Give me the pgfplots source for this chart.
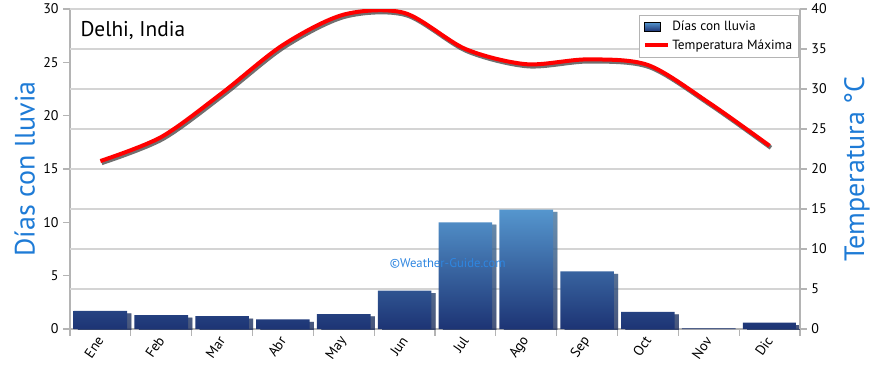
\documentclass[border=0pt]{standalone}
\usepackage{pgfplots}
\pgfplotsset{compat=1.18}
\usepackage{fontspec}
\setmainfont{PT Sans}
\usetikzlibrary{shadows}
\definecolor{gridc}{HTML}{D4D4D4}
\definecolor{axc}{HTML}{B4B4B4}
\definecolor{lblue}{HTML}{1E7BD6}
\definecolor{bartop}{HTML}{5596CE}
\definecolor{barbot}{HTML}{1D3474}
\definecolor{wmark}{HTML}{2F86E0}

\begin{document}
\begin{tikzpicture}
\path[use as bounding box] (-52.5pt,-27pt) rectangle (600pt,246.75pt);
\begin{axis}[
  at={(0,0)}, anchor=south west,
  scale only axis, width=547.5pt, height=240pt,
  xmin=-0.5, xmax=11.5, ymin=0, ymax=30,
  axis x line*=bottom, axis y line*=left,
  axis line style={axc, line width=0.9pt},
  xtick={0,...,11},
  xticklabels={Ene,Feb,Mar,Abr,May,Jun,Jul,Ago,Sep,Oct,Nov,Dic},
  major x tick style={draw=none},
  minor xtick={-0.5,0.5,1.5,2.5,3.5,4.5,5.5,6.5,7.5,8.5,9.5,10.5,11.5},
  minor tick length=5pt,
  minor x tick style={axc, line width=0.9pt},
  tick align=outside,
  ytick={0,5,...,30},
  major tick length=5pt,
  y tick style={axc, line width=0.9pt},
  extra y ticks={3.75,7.5,11.25,15,18.75,22.5,26.25,30},
  extra y tick labels={},
  extra y tick style={grid=major, major tick length=0pt, grid style={gridc, line width=0.8pt}},
  /pgf/number format/assume math mode=true,
  ticklabel style={font=\fontsize{10.5}{12}\selectfont, text=black},
  xticklabel style={rotate=55, anchor=east, xshift=2pt, yshift=-1pt},
  ylabel={Días con lluvia},
  ylabel style={at={(axis description cs:-0.062,0.5)}, anchor=center, rotate=0, font=\fontsize{21}{24}\selectfont, text=lblue},
]
\addplot[ybar, bar width=0.88, draw=none, top color=bartop, bottom color=barbot,
  drop shadow={shadow xshift=3.2pt, shadow yshift=-1.8pt, opacity=0.6, fill=black!80}]
  coordinates {(0,1.7) (1,1.3) (2,1.2) (3,0.9) (4,1.4) (5,3.6) (6,10.0) (7,11.2) (8,5.4) (9,1.6) (10,0.06) (11,0.6)};
\end{axis}
\begin{axis}[
  at={(0,0)}, anchor=south west,
  scale only axis, width=547.5pt, height=240pt,
  xmin=-0.5, xmax=11.5, ymin=0, ymax=40,
  axis x line=none, axis y line*=right,
  axis line style={axc, line width=0.9pt},
  ytick={0,5,...,40},
  major tick length=5pt,
  tick align=outside,
  y tick style={axc, line width=0.9pt},
  /pgf/number format/assume math mode=true,
  ticklabel style={font=\fontsize{10.5}{12}\selectfont, text=black},
  ylabel={Temperatura °C},
  ylabel style={at={(axis description cs:1.078,0.5)}, anchor=center, rotate=0, font=\fontsize{21}{24}\selectfont, text=lblue},
  legend style={at={(rel axis cs:0.998,0.982)}, anchor=north east, draw=axc, line width=0.6pt,
    font=\fontsize{10}{12}\selectfont, inner sep=2.5pt, row sep=1pt, cells={anchor=west}},
]
\addlegendimage{legend image code/.code={\shade[top color=bartop, bottom color=barbot] (0pt,-3pt) rectangle (12pt,3.5pt);}}
\addlegendentry{Días con lluvia}
\addplot[black!75, line width=3.2pt, smooth, opacity=0.75, forget plot,
  transform canvas={xshift=1pt, yshift=-1.5pt}]
  coordinates {(0,21) (1,24) (2,29.5) (3,35.5) (4,39.3) (5,39.5) (6,35) (7,33.1) (8,33.7) (9,33) (10,28.3) (11,22.9)};
\addplot[red, line width=3pt, smooth]
  coordinates {(0,21) (1,24) (2,29.5) (3,35.5) (4,39.3) (5,39.5) (6,35) (7,33.1) (8,33.7) (9,33) (10,28.3) (11,22.9)};
\addlegendentry{Temperatura Máxima}
\node[anchor=north west, font=\fontsize{16}{19}\selectfont] at (rel axis cs:0.008,0.975) {Delhi, India};
\node[font=\fontsize{9.5}{11}\selectfont, text=wmark] at (axis cs:5.71,8.25) {©Weather-Guide.com};
\end{axis}
\end{tikzpicture}
\end{document}
